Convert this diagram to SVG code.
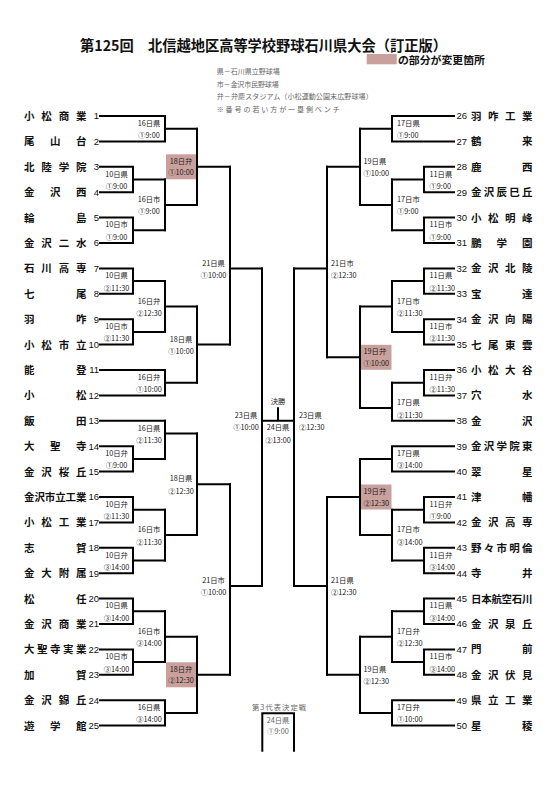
<svg xmlns="http://www.w3.org/2000/svg" width="558" height="789" viewBox="0 0 558 789">
<style>
.ln{fill:none;stroke:#000;stroke-width:2;stroke-linecap:square;stroke-linejoin:miter}
.nm{font-family:"Noto Sans CJK JP","Noto Sans",sans-serif;font-size:10.5px;font-weight:bold;fill:#111}
.no{font-family:"Liberation Sans",Arial,sans-serif;font-size:9.5px;fill:#111}
.lb{font-family:"Noto Sans CJK JP","Noto Sans",sans-serif;font-size:7.3px;fill:#222}
.lc{text-anchor:middle}
.hl{fill:#c9a09c}
.lg{font-family:"Noto Sans CJK JP","Noto Sans",sans-serif;font-size:7px;fill:#666}
.gr{font-family:"Noto Sans CJK JP","Noto Sans",sans-serif;font-size:7.3px;fill:#666}
.tt{font-family:"Noto Sans CJK JP","Noto Sans",sans-serif;font-weight:bold;fill:#111}
</style>
<rect width="558" height="789" fill="#fff"/>
<g id="title">
<text class="tt" x="80" y="50.6" font-size="14.3" textLength="367" lengthAdjust="spacingAndGlyphs">第125回　北信越地区高等学校野球石川県大会（訂正版）</text>
</g>
<g id="legend">
<rect class="hl" x="366.7" y="54" width="30" height="10.3"/>
<text class="tt" x="398" y="63.6" font-size="10.4" textLength="87" lengthAdjust="spacingAndGlyphs">の部分が変更箇所</text>
<text class="lg" x="216.7" y="74.3" textLength="63">県－石川県立野球場</text>
<text class="lg" x="216.7" y="86.6" textLength="62">市－金沢市民野球場</text>
<text class="lg" x="216.7" y="99.3" textLength="156">弁－弁慶スタジアム（小松運動公園末広野球場）</text>
<text class="lg" x="216.7" y="111.6" textLength="123">※番号の若い方が一塁側ベンチ</text>
</g>
<g id="highlights">
<rect class="hl" x="166" y="154.3" width="30" height="25"/>
<rect class="hl" x="166" y="662.3" width="30" height="25"/>
<rect class="hl" x="361" y="344.8" width="30.5" height="25"/>
<rect class="hl" x="361" y="484.5" width="30.5" height="25"/>
</g>
<g id="connectors" class="ln">
<path d="M100,116H165V141.4H100M165,128.7H197"/>
<path d="M100,166.8H133V192.2H100M133,179.5H165"/>
<path d="M100,217.6H133V243H100M133,230.3H165"/>
<path d="M165,179.5V230.3M165,204.9H197"/>
<path d="M197,128.7V204.9M197,166.8H230"/>
<path d="M100,268.4H133V293.8H100M133,281.1H165"/>
<path d="M100,319.2H133V344.6H100M133,331.9H165"/>
<path d="M165,281.1V331.9M165,306.5H197"/>
<path d="M100,370H165V395.4H100M165,382.7H197"/>
<path d="M197,306.5V382.7M197,344.6H230"/>
<path d="M230,166.8V344.6M230,268.4H262"/>
<path d="M100,420.8H165M100,446.2H133V471.6H100M133,458.9H165"/>
<path d="M165,420.8V458.9M165,433.5H197"/>
<path d="M100,497H133V522.4H100M133,509.7H165"/>
<path d="M100,547.8H133V573.2H100M133,560.5H165"/>
<path d="M165,509.7V560.5M165,535.1H197"/>
<path d="M197,433.5V535.1M197,484.3H230"/>
<path d="M100,598.6H133V624H100M133,611.3H165"/>
<path d="M100,649.4H133V674.8H100M133,662.1H165"/>
<path d="M165,611.3V662.1M165,636.7H197"/>
<path d="M100,700.2H165V725.6H100M165,712.9H197"/>
<path d="M197,636.7V712.9M197,674.8H230"/>
<path d="M230,484.3V674.8M230,585.9H262"/>
<path d="M262,268.4V585.9"/>
<path d="M262,420.8H294M278,408.3V420.8"/>
<path d="M294,268.4V585.9"/>
<path d="M454,116H392V141.4H454M392,128.7H360"/>
<path d="M454,166.8H424V192.2H454M424,179.5H392"/>
<path d="M454,217.6H424V243H454M424,230.3H392"/>
<path d="M392,179.5V230.3M392,204.9H360"/>
<path d="M360,128.7V204.9M360,166.8H327"/>
<path d="M454,268.4H424V293.8H454M424,281.1H392"/>
<path d="M454,319.2H424V344.6H454M424,331.9H392"/>
<path d="M392,281.1V331.9M392,306.5H360"/>
<path d="M454,370H424V395.4H454M424,382.7H392"/>
<path d="M454,420.8H392V382.7M392,408.1H360"/>
<path d="M360,306.5V408.1M360,357.3H327"/>
<path d="M327,166.8V357.3M327,268.4H294"/>
<path d="M454,446.2H392V471.6H454M392,458.9H360"/>
<path d="M454,497H424V522.4H454M424,509.7H392"/>
<path d="M454,547.8H424V573.2H454M424,560.5H392"/>
<path d="M392,509.7V560.5M392,535.1H360"/>
<path d="M360,458.9V535.1M360,497H327"/>
<path d="M454,598.6H424V624H454M424,611.3H392"/>
<path d="M454,649.4H424V674.8H454M424,662.1H392"/>
<path d="M392,611.3V662.1M392,636.7H360"/>
<path d="M454,700.2H392V725.6H454M392,712.9H360"/>
<path d="M360,636.7V712.9M360,674.8H327"/>
<path d="M327,497V674.8M327,585.9H294"/>
<path d="M262.3,750.7V713.3H294V750.7"/>
</g>
<g id="teams-left">
<g id="t1" transform="translate(0,116)"><text class="nm" x="24 41.3 58.7 76" y="4">小松商業</text><text class="no" x="99" y="3.4" text-anchor="end">1</text></g>
<g id="t2" transform="translate(0,141.4)"><text class="nm" x="24 50 76" y="4">尾山台</text><text class="no" x="99" y="3.4" text-anchor="end">2</text></g>
<g id="t3" transform="translate(0,166.8)"><text class="nm" x="24 41.3 58.7 76" y="4">北陸学院</text><text class="no" x="99" y="3.4" text-anchor="end">3</text></g>
<g id="t4" transform="translate(0,192.2)"><text class="nm" x="24 50 76" y="4">金沢西</text><text class="no" x="99" y="3.4" text-anchor="end">4</text></g>
<g id="t5" transform="translate(0,217.6)"><text class="nm" x="24 76" y="4">輪島</text><text class="no" x="99" y="3.4" text-anchor="end">5</text></g>
<g id="t6" transform="translate(0,243)"><text class="nm" x="24 41.3 58.7 76" y="4">金沢二水</text><text class="no" x="99" y="3.4" text-anchor="end">6</text></g>
<g id="t7" transform="translate(0,268.4)"><text class="nm" x="24 41.3 58.7 76" y="4">石川高専</text><text class="no" x="99" y="3.4" text-anchor="end">7</text></g>
<g id="t8" transform="translate(0,293.8)"><text class="nm" x="24 76" y="4">七尾</text><text class="no" x="99" y="3.4" text-anchor="end">8</text></g>
<g id="t9" transform="translate(0,319.2)"><text class="nm" x="24 76" y="4">羽咋</text><text class="no" x="99" y="3.4" text-anchor="end">9</text></g>
<g id="t10" transform="translate(0,344.6)"><text class="nm" x="24 41.3 58.7 76" y="4">小松市立</text><text class="no" x="99" y="3.4" text-anchor="end">10</text></g>
<g id="t11" transform="translate(0,370)"><text class="nm" x="24 76" y="4">能登</text><text class="no" x="99" y="3.4" text-anchor="end">11</text></g>
<g id="t12" transform="translate(0,395.4)"><text class="nm" x="24 76" y="4">小松</text><text class="no" x="99" y="3.4" text-anchor="end">12</text></g>
<g id="t13" transform="translate(0,420.8)"><text class="nm" x="24 76" y="4">飯田</text><text class="no" x="99" y="3.4" text-anchor="end">13</text></g>
<g id="t14" transform="translate(0,446.2)"><text class="nm" x="24 50 76" y="4">大聖寺</text><text class="no" x="99" y="3.4" text-anchor="end">14</text></g>
<g id="t15" transform="translate(0,471.6)"><text class="nm" x="24 41.3 58.7 76" y="4">金沢桜丘</text><text class="no" x="99" y="3.4" text-anchor="end">15</text></g>
<g id="t16" transform="translate(0,497)"><text class="nm" x="24 34.4 44.8 55.2 65.6 76" y="4">金沢市立工業</text><text class="no" x="99" y="3.4" text-anchor="end">16</text></g>
<g id="t17" transform="translate(0,522.4)"><text class="nm" x="24 41.3 58.7 76" y="4">小松工業</text><text class="no" x="99" y="3.4" text-anchor="end">17</text></g>
<g id="t18" transform="translate(0,547.8)"><text class="nm" x="24 76" y="4">志賀</text><text class="no" x="99" y="3.4" text-anchor="end">18</text></g>
<g id="t19" transform="translate(0,573.2)"><text class="nm" x="24 41.3 58.7 76" y="4">金大附属</text><text class="no" x="99" y="3.4" text-anchor="end">19</text></g>
<g id="t20" transform="translate(0,598.6)"><text class="nm" x="24 76" y="4">松任</text><text class="no" x="99" y="3.4" text-anchor="end">20</text></g>
<g id="t21" transform="translate(0,624)"><text class="nm" x="24 41.3 58.7 76" y="4">金沢商業</text><text class="no" x="99" y="3.4" text-anchor="end">21</text></g>
<g id="t22" transform="translate(0,649.4)"><text class="nm" x="24 37 50 63 76" y="4">大聖寺実業</text><text class="no" x="99" y="3.4" text-anchor="end">22</text></g>
<g id="t23" transform="translate(0,674.8)"><text class="nm" x="24 76" y="4">加賀</text><text class="no" x="99" y="3.4" text-anchor="end">23</text></g>
<g id="t24" transform="translate(0,700.2)"><text class="nm" x="24 41.3 58.7 76" y="4">金沢錦丘</text><text class="no" x="99" y="3.4" text-anchor="end">24</text></g>
<g id="t25" transform="translate(0,725.6)"><text class="nm" x="24 50 76" y="4">遊学館</text><text class="no" x="99" y="3.4" text-anchor="end">25</text></g>
</g>
<g id="teams-right">
<g id="t26" transform="translate(0,116)"><text class="no" x="456.5" y="3.4">26</text><text class="nm" x="471 488 505 522" y="4">羽咋工業</text></g>
<g id="t27" transform="translate(0,141.4)"><text class="no" x="456.5" y="3.4">27</text><text class="nm" x="471 522" y="4">鶴来</text></g>
<g id="t28" transform="translate(0,166.8)"><text class="no" x="456.5" y="3.4">28</text><text class="nm" x="471 522" y="4">鹿西</text></g>
<g id="t29" transform="translate(0,192.2)"><text class="no" x="456.5" y="3.4">29</text><text class="nm" x="471 483.75 496.5 509.25 522" y="4">金沢辰巳丘</text></g>
<g id="t30" transform="translate(0,217.6)"><text class="no" x="456.5" y="3.4">30</text><text class="nm" x="471 488 505 522" y="4">小松明峰</text></g>
<g id="t31" transform="translate(0,243)"><text class="no" x="456.5" y="3.4">31</text><text class="nm" x="471 496.5 522" y="4">鵬学園</text></g>
<g id="t32" transform="translate(0,268.4)"><text class="no" x="456.5" y="3.4">32</text><text class="nm" x="471 488 505 522" y="4">金沢北陵</text></g>
<g id="t33" transform="translate(0,293.8)"><text class="no" x="456.5" y="3.4">33</text><text class="nm" x="471 522" y="4">宝達</text></g>
<g id="t34" transform="translate(0,319.2)"><text class="no" x="456.5" y="3.4">34</text><text class="nm" x="471 488 505 522" y="4">金沢向陽</text></g>
<g id="t35" transform="translate(0,344.6)"><text class="no" x="456.5" y="3.4">35</text><text class="nm" x="471 488 505 522" y="4">七尾東雲</text></g>
<g id="t36" transform="translate(0,370)"><text class="no" x="456.5" y="3.4">36</text><text class="nm" x="471 488 505 522" y="4">小松大谷</text></g>
<g id="t37" transform="translate(0,395.4)"><text class="no" x="456.5" y="3.4">37</text><text class="nm" x="471 522" y="4">穴水</text></g>
<g id="t38" transform="translate(0,420.8)"><text class="no" x="456.5" y="3.4">38</text><text class="nm" x="471 522" y="4">金沢</text></g>
<g id="t39" transform="translate(0,446.2)"><text class="no" x="456.5" y="3.4">39</text><text class="nm" x="471 483.75 496.5 509.25 522" y="4">金沢学院東</text></g>
<g id="t40" transform="translate(0,471.6)"><text class="no" x="456.5" y="3.4">40</text><text class="nm" x="471 522" y="4">翠星</text></g>
<g id="t41" transform="translate(0,497)"><text class="no" x="456.5" y="3.4">41</text><text class="nm" x="471 522" y="4">津幡</text></g>
<g id="t42" transform="translate(0,522.4)"><text class="no" x="456.5" y="3.4">42</text><text class="nm" x="471 488 505 522" y="4">金沢高専</text></g>
<g id="t43" transform="translate(0,547.8)"><text class="no" x="456.5" y="3.4">43</text><text class="nm" x="471 483.75 496.5 509.25 522" y="4">野々市明倫</text></g>
<g id="t44" transform="translate(0,573.2)"><text class="no" x="456.5" y="3.4">44</text><text class="nm" x="471 522" y="4">寺井</text></g>
<g id="t45" transform="translate(0,598.6)"><text class="no" x="456.5" y="3.4">45</text><text class="nm" x="471 481.2 491.4 501.6 511.8 522" y="4">日本航空石川</text></g>
<g id="t46" transform="translate(0,624)"><text class="no" x="456.5" y="3.4">46</text><text class="nm" x="471 488 505 522" y="4">金沢泉丘</text></g>
<g id="t47" transform="translate(0,649.4)"><text class="no" x="456.5" y="3.4">47</text><text class="nm" x="471 522" y="4">門前</text></g>
<g id="t48" transform="translate(0,674.8)"><text class="no" x="456.5" y="3.4">48</text><text class="nm" x="471 488 505 522" y="4">金沢伏見</text></g>
<g id="t49" transform="translate(0,700.2)"><text class="no" x="456.5" y="3.4">49</text><text class="nm" x="471 488 505 522" y="4">県立工業</text></g>
<g id="t50" transform="translate(0,725.6)"><text class="no" x="456.5" y="3.4">50</text><text class="nm" x="471 522" y="4">星稜</text></g>
</g>
<g id="matches-left" class="lb lc">
<g id="mL1" transform="translate(149,128.7)"><text y="-2.9">16日県</text><text y="9.5">①9:00</text></g>
<g id="mL2" transform="translate(116.5,179.5)"><text y="-2.9">10日県</text><text y="9.5">①9:00</text></g>
<g id="mL3" transform="translate(116.5,230.3)"><text y="-2.9">10日市</text><text y="9.5">①9:00</text></g>
<g id="mL4" transform="translate(149,204.9)"><text y="-2.9">16日市</text><text y="9.5">①9:00</text></g>
<g id="mL5" transform="translate(181,166.8)"><text y="-2.9">18日弁</text><text y="8.5">①10:00</text></g>
<g id="mL6" transform="translate(116.5,281.1)"><text y="-2.9">10日県</text><text y="9.5">②11:30</text></g>
<g id="mL7" transform="translate(116.5,331.9)"><text y="-2.9">10日市</text><text y="9.5">②11:30</text></g>
<g id="mL8" transform="translate(149,306.5)"><text y="-2.9">16日弁</text><text y="9.5">②12:30</text></g>
<g id="mL9" transform="translate(149,382.7)"><text y="-2.9">16日弁</text><text y="9.5">①10:00</text></g>
<g id="mL10" transform="translate(181,344.6)"><text y="-2.9">18日県</text><text y="9.5">①10:00</text></g>
<g id="mL11" transform="translate(213.5,268.4)"><text y="-2.9">21日県</text><text y="9.5">①10:00</text></g>
<g id="mL12" transform="translate(116.5,458.9)"><text y="-2.9">10日弁</text><text y="9.5">①9:00</text></g>
<g id="mL13" transform="translate(149,433.5)"><text y="-2.9">16日県</text><text y="9.5">②11:30</text></g>
<g id="mL14" transform="translate(116.5,509.7)"><text y="-2.9">10日弁</text><text y="9.5">②11:30</text></g>
<g id="mL15" transform="translate(116.5,560.5)"><text y="-2.9">10日弁</text><text y="9.5">③14:00</text></g>
<g id="mL16" transform="translate(149,535.1)"><text y="-2.9">16日市</text><text y="9.5">②11:30</text></g>
<g id="mL17" transform="translate(181,484.3)"><text y="-2.9">18日県</text><text y="9.5">②12:30</text></g>
<g id="mL18" transform="translate(116.5,611.3)"><text y="-2.9">10日県</text><text y="9.5">③14:00</text></g>
<g id="mL19" transform="translate(116.5,662.1)"><text y="-2.9">10日市</text><text y="9.5">③14:00</text></g>
<g id="mL20" transform="translate(149,636.7)"><text y="-2.9">16日市</text><text y="9.5">③14:00</text></g>
<g id="mL21" transform="translate(149,712.9)"><text y="-2.9">16日県</text><text y="9.5">③14:00</text></g>
<g id="mL22" transform="translate(181,674.8)"><text y="-2.9">18日弁</text><text y="8.5">②12:30</text></g>
<g id="mL23" transform="translate(213.5,585.9)"><text y="-2.9">21日市</text><text y="9.5">①10:00</text></g>
<g id="mSL" transform="translate(246,420.8)"><text y="-2.9">23日県</text><text y="9.5">①10:00</text></g>
<g id="mF" transform="translate(278,0)"><text y="404.4">決勝</text><text y="430">24日県</text><text y="443.4">②13:00</text></g>
</g>
<g id="matches-right" class="lb">
<g id="mSR" transform="translate(299,420.8)"><text y="-2.9">23日県</text><text y="9.5">②12:30</text></g>
<g id="mR1" transform="translate(397,128.7)"><text y="-2.9">17日県</text><text y="9.5">①9:00</text></g>
<g id="mR2" transform="translate(429.5,179.5)"><text y="-2.9">11日県</text><text y="9.5">①9:00</text></g>
<g id="mR3" transform="translate(429.5,230.3)"><text y="-2.9">11日市</text><text y="9.5">①9:00</text></g>
<g id="mR4" transform="translate(397,204.9)"><text y="-2.9">17日市</text><text y="9.5">①9:00</text></g>
<g id="mR5" transform="translate(363.5,166.8)"><text y="-2.9">19日県</text><text y="9.5">①10:00</text></g>
<g id="mR6" transform="translate(429.5,281.1)"><text y="-2.9">11日県</text><text y="9.5">②11:30</text></g>
<g id="mR7" transform="translate(429.5,331.9)"><text y="-2.9">11日市</text><text y="9.5">②11:30</text></g>
<g id="mR8" transform="translate(397,306.5)"><text y="-2.9">17日市</text><text y="9.5">②11:30</text></g>
<g id="mR9" transform="translate(429.5,382.7)"><text y="-2.9">11日弁</text><text y="9.5">②11:30</text></g>
<g id="mR10" transform="translate(397,408.1)"><text y="-2.9">17日県</text><text y="9.5">②11:30</text></g>
<g id="mR11" transform="translate(363.5,357.3)"><text y="-2.9">19日弁</text><text y="8.5">①10:00</text></g>
<g id="mR12" transform="translate(331,268.4)"><text y="-2.9">21日市</text><text y="9.5">②12:30</text></g>
<g id="mR13" transform="translate(397,458.9)"><text y="-2.9">17日県</text><text y="9.5">③14:00</text></g>
<g id="mR14" transform="translate(429.5,509.7)"><text y="-2.9">11日弁</text><text y="9.5">①9:00</text></g>
<g id="mR15" transform="translate(429.5,560.5)"><text y="-2.9">11日弁</text><text y="9.5">③14:00</text></g>
<g id="mR16" transform="translate(397,535.1)"><text y="-2.9">17日市</text><text y="9.5">③14:00</text></g>
<g id="mR17" transform="translate(363.5,497)"><text y="-2.9">19日弁</text><text y="8.5">②12:30</text></g>
<g id="mR18" transform="translate(429.5,611.3)"><text y="-2.9">11日県</text><text y="9.5">③14:00</text></g>
<g id="mR19" transform="translate(429.5,662.1)"><text y="-2.9">11日市</text><text y="9.5">③14:00</text></g>
<g id="mR20" transform="translate(397,636.7)"><text y="-2.9">17日弁</text><text y="9.5">②12:30</text></g>
<g id="mR21" transform="translate(397,712.9)"><text y="-2.9">17日弁</text><text y="9.5">①10:00</text></g>
<g id="mR22" transform="translate(363.5,674.8)"><text y="-2.9">19日県</text><text y="9.5">②12:30</text></g>
<g id="mR23" transform="translate(331,585.9)"><text y="-2.9">21日県</text><text y="9.5">②12:30</text></g>
</g>
<g id="third-place" class="gr">
<text x="252" y="710" textLength="54">第3代表決定戦</text>
<text x="278" y="722.7" text-anchor="middle">24日県</text>
<text x="278" y="734.3" text-anchor="middle">①9:00</text>
</g>
</svg>
